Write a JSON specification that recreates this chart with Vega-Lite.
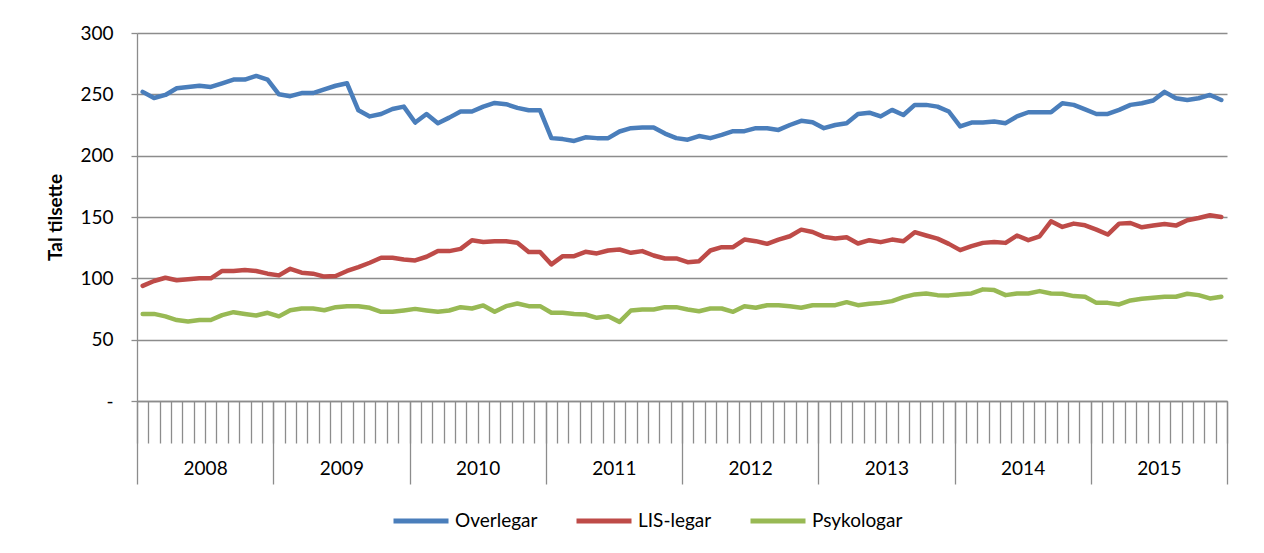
{
  "$schema": "https://vega.github.io/schema/vega-lite/v6.json",
  "width": 1090,
  "height": 368,
  "autosize": {"type": "none"},
  "padding": {"left": 137, "top": 33, "right": 37, "bottom": 152},
  "background": "white",
  "config": {
    "view": {"stroke": null},
    "font": "Lato",
    "axis": {"labelFont": "Lato", "titleFont": "Lato", "labelColor": "#000000", "titleColor": "#000000"},
    "legend": {"labelFont": "Lato"}
  },
  "data": {
    "values": [
      {"m":0,"Overlegar":252,"LIS-legar":93.8,"Psykologar":71},
      {"m":1,"Overlegar":247,"LIS-legar":97.8,"Psykologar":71},
      {"m":2,"Overlegar":249.5,"LIS-legar":100.5,"Psykologar":69},
      {"m":3,"Overlegar":255,"LIS-legar":98.4,"Psykologar":66},
      {"m":4,"Overlegar":256,"LIS-legar":99.2,"Psykologar":64.8},
      {"m":5,"Overlegar":257,"LIS-legar":100,"Psykologar":66},
      {"m":6,"Overlegar":256,"LIS-legar":100,"Psykologar":66},
      {"m":7,"Overlegar":259,"LIS-legar":106,"Psykologar":70},
      {"m":8,"Overlegar":262,"LIS-legar":106,"Psykologar":72.4},
      {"m":9,"Overlegar":262,"LIS-legar":106.8,"Psykologar":71},
      {"m":10,"Overlegar":265,"LIS-legar":106,"Psykologar":69.7},
      {"m":11,"Overlegar":262,"LIS-legar":103.8,"Psykologar":71.9},
      {"m":12,"Overlegar":250,"LIS-legar":102.4,"Psykologar":69},
      {"m":13,"Overlegar":248.5,"LIS-legar":107.8,"Psykologar":74},
      {"m":14,"Overlegar":251,"LIS-legar":104.6,"Psykologar":75.4},
      {"m":15,"Overlegar":251,"LIS-legar":103.8,"Psykologar":75.4},
      {"m":16,"Overlegar":254,"LIS-legar":101.4,"Psykologar":74},
      {"m":17,"Overlegar":257,"LIS-legar":101.9,"Psykologar":76.5},
      {"m":18,"Overlegar":259,"LIS-legar":106,"Psykologar":77.3},
      {"m":19,"Overlegar":237,"LIS-legar":109.2,"Psykologar":77.3},
      {"m":20,"Overlegar":232,"LIS-legar":112.7,"Psykologar":76},
      {"m":21,"Overlegar":234,"LIS-legar":116.8,"Psykologar":72.7},
      {"m":22,"Overlegar":238,"LIS-legar":116.8,"Psykologar":72.7},
      {"m":23,"Overlegar":240,"LIS-legar":115.4,"Psykologar":73.8},
      {"m":24,"Overlegar":227,"LIS-legar":114.6,"Psykologar":75.1},
      {"m":25,"Overlegar":234,"LIS-legar":117.6,"Psykologar":73.8},
      {"m":26,"Overlegar":226.5,"LIS-legar":122.2,"Psykologar":72.7},
      {"m":27,"Overlegar":231,"LIS-legar":122.2,"Psykologar":73.8},
      {"m":28,"Overlegar":236,"LIS-legar":124,"Psykologar":76.5},
      {"m":29,"Overlegar":236,"LIS-legar":131,"Psykologar":75.4},
      {"m":30,"Overlegar":240,"LIS-legar":129.7,"Psykologar":77.9},
      {"m":31,"Overlegar":243,"LIS-legar":130.3,"Psykologar":72.7},
      {"m":32,"Overlegar":242,"LIS-legar":130.3,"Psykologar":77.3},
      {"m":33,"Overlegar":239,"LIS-legar":129,"Psykologar":79.5},
      {"m":34,"Overlegar":237,"LIS-legar":121.4,"Psykologar":77.3},
      {"m":35,"Overlegar":237,"LIS-legar":121.4,"Psykologar":77.3},
      {"m":36,"Overlegar":214.3,"LIS-legar":111.4,"Psykologar":71.9},
      {"m":37,"Overlegar":213.5,"LIS-legar":118.1,"Psykologar":71.9},
      {"m":38,"Overlegar":212,"LIS-legar":118.1,"Psykologar":71},
      {"m":39,"Overlegar":215,"LIS-legar":121.6,"Psykologar":70.5},
      {"m":40,"Overlegar":214.3,"LIS-legar":120.3,"Psykologar":67.8},
      {"m":41,"Overlegar":214.3,"LIS-legar":122.7,"Psykologar":69.1},
      {"m":42,"Overlegar":219.7,"LIS-legar":123.5,"Psykologar":64.5},
      {"m":43,"Overlegar":222.4,"LIS-legar":120.8,"Psykologar":73.8},
      {"m":44,"Overlegar":223,"LIS-legar":122.2,"Psykologar":74.6},
      {"m":45,"Overlegar":223,"LIS-legar":118.6,"Psykologar":74.6},
      {"m":46,"Overlegar":218,"LIS-legar":116.2,"Psykologar":76.5},
      {"m":47,"Overlegar":214.3,"LIS-legar":116.2,"Psykologar":76.5},
      {"m":48,"Overlegar":213,"LIS-legar":113.2,"Psykologar":74.6},
      {"m":49,"Overlegar":216,"LIS-legar":114,"Psykologar":73.2},
      {"m":50,"Overlegar":214.3,"LIS-legar":122.7,"Psykologar":75.4},
      {"m":51,"Overlegar":217,"LIS-legar":125.4,"Psykologar":75.4},
      {"m":52,"Overlegar":220,"LIS-legar":125.4,"Psykologar":72.7},
      {"m":53,"Overlegar":220,"LIS-legar":131.6,"Psykologar":77.3},
      {"m":54,"Overlegar":222.4,"LIS-legar":130.3,"Psykologar":76},
      {"m":55,"Overlegar":222.4,"LIS-legar":128.1,"Psykologar":78.1},
      {"m":56,"Overlegar":221,"LIS-legar":131.6,"Psykologar":78.1},
      {"m":57,"Overlegar":225,"LIS-legar":134.3,"Psykologar":77.3},
      {"m":58,"Overlegar":228.4,"LIS-legar":139.7,"Psykologar":76},
      {"m":59,"Overlegar":227.3,"LIS-legar":137.8,"Psykologar":78.1},
      {"m":60,"Overlegar":222.4,"LIS-legar":133.8,"Psykologar":78.1},
      {"m":61,"Overlegar":225,"LIS-legar":132.4,"Psykologar":78.1},
      {"m":62,"Overlegar":226.5,"LIS-legar":133.5,"Psykologar":80.6},
      {"m":63,"Overlegar":234,"LIS-legar":128.4,"Psykologar":78.1},
      {"m":64,"Overlegar":235,"LIS-legar":131.1,"Psykologar":79.2},
      {"m":65,"Overlegar":232,"LIS-legar":129.5,"Psykologar":80},
      {"m":66,"Overlegar":237.3,"LIS-legar":131.6,"Psykologar":81.4},
      {"m":67,"Overlegar":233.2,"LIS-legar":130.3,"Psykologar":84.7},
      {"m":68,"Overlegar":241.4,"LIS-legar":137.6,"Psykologar":86.9},
      {"m":69,"Overlegar":241.4,"LIS-legar":134.9,"Psykologar":87.7},
      {"m":70,"Overlegar":240,"LIS-legar":132.4,"Psykologar":86.3},
      {"m":71,"Overlegar":236,"LIS-legar":128.1,"Psykologar":86.1},
      {"m":72,"Overlegar":223.8,"LIS-legar":123,"Psykologar":87},
      {"m":73,"Overlegar":227,"LIS-legar":126.2,"Psykologar":87.7},
      {"m":74,"Overlegar":227,"LIS-legar":128.9,"Psykologar":91},
      {"m":75,"Overlegar":227.8,"LIS-legar":129.7,"Psykologar":90.4},
      {"m":76,"Overlegar":226.5,"LIS-legar":128.9,"Psykologar":86.3},
      {"m":77,"Overlegar":232,"LIS-legar":134.9,"Psykologar":87.7},
      {"m":78,"Overlegar":235.4,"LIS-legar":131.1,"Psykologar":87.7},
      {"m":79,"Overlegar":235.4,"LIS-legar":134.3,"Psykologar":89.6},
      {"m":80,"Overlegar":235.4,"LIS-legar":146.5,"Psykologar":87.7},
      {"m":81,"Overlegar":242.7,"LIS-legar":141.9,"Psykologar":87.4},
      {"m":82,"Overlegar":241.4,"LIS-legar":144.6,"Psykologar":85.5},
      {"m":83,"Overlegar":237.8,"LIS-legar":143.2,"Psykologar":85},
      {"m":84,"Overlegar":234,"LIS-legar":139.7,"Psykologar":80},
      {"m":85,"Overlegar":234,"LIS-legar":135.7,"Psykologar":80},
      {"m":86,"Overlegar":237.3,"LIS-legar":144.6,"Psykologar":78.7},
      {"m":87,"Overlegar":241.4,"LIS-legar":145.1,"Psykologar":82},
      {"m":88,"Overlegar":242.7,"LIS-legar":141.6,"Psykologar":83.3},
      {"m":89,"Overlegar":245,"LIS-legar":143,"Psykologar":84.2},
      {"m":90,"Overlegar":252,"LIS-legar":144.3,"Psykologar":85},
      {"m":91,"Overlegar":246.8,"LIS-legar":143,"Psykologar":85},
      {"m":92,"Overlegar":245.4,"LIS-legar":147.3,"Psykologar":87.4},
      {"m":93,"Overlegar":246.8,"LIS-legar":149.2,"Psykologar":86.3},
      {"m":94,"Overlegar":249.5,"LIS-legar":151.4,"Psykologar":83.6},
      {"m":95,"Overlegar":245.4,"LIS-legar":150,"Psykologar":85}
    ]
  },
  "transform": [{"fold": ["Overlegar", "LIS-legar", "Psykologar"], "as": ["s", "v"]}],
  "layer": [
    {
      "mark": {"type": "line", "strokeWidth": 4.5, "strokeJoin": "round", "strokeCap": "round"},
      "encoding": {
        "x": {
          "field": "m", "type": "quantitative",
          "scale": {"domain": [-0.5, 95.5], "nice": false, "zero": false},
          "axis": {
            "orient": "bottom",
            "title": null, "labels": false, "grid": false,
            "values": [-0.5,0.5,1.5,2.5,3.5,4.5,5.5,6.5,7.5,8.5,9.5,10.5,11.5,12.5,13.5,14.5,15.5,16.5,17.5,18.5,19.5,20.5,21.5,22.5,23.5,24.5,25.5,26.5,27.5,28.5,29.5,30.5,31.5,32.5,33.5,34.5,35.5,36.5,37.5,38.5,39.5,40.5,41.5,42.5,43.5,44.5,45.5,46.5,47.5,48.5,49.5,50.5,51.5,52.5,53.5,54.5,55.5,56.5,57.5,58.5,59.5,60.5,61.5,62.5,63.5,64.5,65.5,66.5,67.5,68.5,69.5,70.5,71.5,72.5,73.5,74.5,75.5,76.5,77.5,78.5,79.5,80.5,81.5,82.5,83.5,84.5,85.5,86.5,87.5,88.5,89.5,90.5,91.5,92.5,93.5,94.5,95.5],
            "tickSize": 42, "tickColor": "#8c8c8c", "tickWidth": 1.3,
            "domain": true, "domainColor": "#8c8c8c", "domainWidth": 1.3
          }
        },
        "y": {
          "field": "v", "type": "quantitative",
          "scale": {"domain": [0, 300], "nice": false},
          "axis": {
            "values": [0, 50, 100, 150, 200, 250, 300],
            "labelExpr": "datum.value == 0 ? '-\u00a0\u00a0\u00a0' : datum.label",
            "labelFontSize": 19, "labelPadding": 18,
            "tickSize": 6, "tickColor": "#8c8c8c", "tickWidth": 1.3,
            "domainColor": "#8c8c8c", "domainWidth": 1.3,
            "grid": true, "gridColor": "#8c8c8c", "gridWidth": 1.3,
            "title": "Tal tilsette", "titleFontSize": 19, "titleFontWeight": "bold", "titlePadding": 14
          }
        },
        "color": {
          "field": "s", "type": "nominal",
          "scale": {"domain": ["Overlegar", "LIS-legar", "Psykologar"], "range": ["#4A7EBB", "#BE4B48", "#98B954"]},
          "legend": {
            "title": null, "orient": "none", "legendX": 254, "legendY": 458,
            "direction": "horizontal", "symbolType": "stroke", "symbolSize": 3025,
            "symbolStrokeWidth": 5, "labelFontSize": 19, "labelOffset": 4, "columnPadding": 28,
            "labelColor": "#000000"
          }
        }
      }
    },
    {
      "mark": {"type": "point", "opacity": 0},
      "encoding": {
        "x": {
          "field": "m", "type": "quantitative",
          "scale": {"domain": [-0.5, 95.5], "nice": false, "zero": false},
          "axis": {
            "orient": "bottom",
            "title": null, "labels": false, "grid": false, "domain": false,
            "values": [-0.5, 11.5, 23.5, 35.5, 47.5, 59.5, 71.5, 83.5, 95.5],
            "tickSize": 83, "tickColor": "#8c8c8c", "tickWidth": 1.3
          }
        }
      }
    },
    {
      "mark": {"type": "point", "opacity": 0},
      "encoding": {
        "x": {
          "field": "m", "type": "quantitative",
          "scale": {"domain": [-0.5, 95.5], "nice": false, "zero": false},
          "axis": {
            "orient": "bottom",
            "title": null, "grid": false, "domain": false, "ticks": false,
            "values": [5.5, 17.5, 29.5, 41.5, 53.5, 65.5, 77.5, 89.5],
            "labelExpr": "'' + (2008 + floor((datum.value + 0.5) / 12))",
            "labelFontSize": 19, "labelPadding": 58
          }
        }
      }
    }
  ],
  "resolve": {"scale": {"x": "independent"}, "axis": {"x": "independent"}}
}
